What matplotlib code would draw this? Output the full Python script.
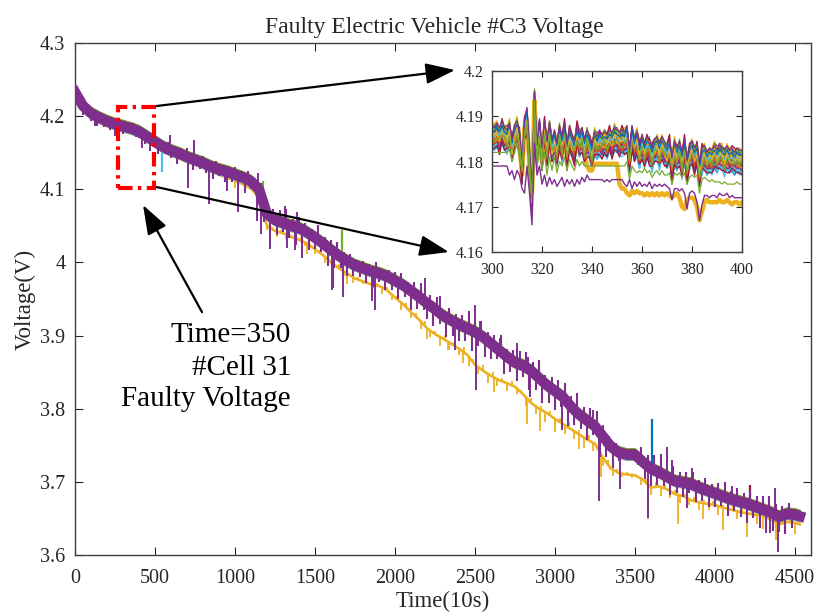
import numpy as np
import matplotlib
matplotlib.use('Agg')
import matplotlib.pyplot as plt
from matplotlib.patches import Rectangle

plt.rcParams['font.family'] = ['Liberation Serif', 'DejaVu Serif']

# ---------------- text ----------------
TITLE = 'Faulty Electric Vehicle #C3 Voltage'
XLABEL = 'Time(10s)'
YLABEL = 'Voltage(V)'
ANNOT_LINES = ['Time=350', '#Cell 31', 'Faulty Voltage']

# MATLAB default colour order
C = ['#0072BD', '#D95319', '#EDB120', '#7E2F8E', '#77AC30', '#4DBEEE', '#A2142F']

# ---------------- main chart data ----------------
x_ticks = [0, 500, 1000, 1500, 2000, 2500, 3000, 3500, 4000, 4500]
y_ticks = [3.6, 3.7, 3.8, 3.9, 4.0, 4.1, 4.2, 4.3]
y_tick_labels = ['3.6', '3.7', '3.8', '3.9', '4', '4.1', '4.2', '4.3']

t_main = list(range(0, 4501, 50)) + [4530]

band_v = [
    4.233, 4.214, 4.204, 4.198, 4.193, 4.189, 4.186, 4.183, 4.179, 4.172,
    4.165, 4.158, 4.153, 4.149, 4.144, 4.140, 4.136, 4.131, 4.127, 4.124,
    4.120, 4.116, 4.111, 4.100, 4.066, 4.058, 4.054, 4.050, 4.047, 4.041,
    4.034, 4.026, 4.017, 4.009, 4.002, 3.996, 3.992, 3.988, 3.985, 3.981,
    3.975, 3.969, 3.961, 3.953, 3.944, 3.936, 3.927, 3.921, 3.915, 3.910,
    3.905, 3.898, 3.889, 3.880, 3.871, 3.863, 3.859, 3.852, 3.842, 3.832,
    3.824, 3.816, 3.803, 3.792, 3.784, 3.776, 3.762, 3.748, 3.740, 3.737,
    3.737, 3.727, 3.718, 3.713, 3.707, 3.701, 3.699, 3.697, 3.692, 3.688,
    3.684, 3.680, 3.676, 3.673, 3.670, 3.666, 3.662, 3.658, 3.652, 3.656,
    3.655, 3.653]

fault_v = [
    4.233, 4.214, 4.204, 4.198, 4.193, 4.189, 4.185, 4.180, 4.174, 4.167,
    4.160, 4.153, 4.148, 4.144, 4.139, 4.134, 4.130, 4.125, 4.120, 4.116,
    4.112, 4.107, 4.101, 4.089, 4.050, 4.043, 4.040, 4.035, 4.031, 4.026,
    4.018, 4.010, 4.000, 3.992, 3.985, 3.978, 3.974, 3.970, 3.968, 3.962,
    3.952, 3.943, 3.932, 3.922, 3.910, 3.902, 3.896, 3.889, 3.882, 3.874,
    3.860, 3.852, 3.845, 3.839, 3.835, 3.830, 3.820, 3.808, 3.800, 3.794,
    3.786, 3.779, 3.772, 3.765, 3.758, 3.752, 3.733, 3.718, 3.712, 3.710,
    3.709, 3.703, 3.692, 3.694, 3.690, 3.683, 3.681, 3.675, 3.672, 3.670,
    3.668, 3.665, 3.662, 3.659, 3.657, 3.655, 3.654, 3.648, 3.642, 3.645,
    3.644, 3.642]

# offsets of the other cells around the band, and their colour index
main_cell_offsets = [0.0075, 0.007, -0.0075, 0.008, -0.007, 0.0065]
main_cell_colors = [0, 1, 2, 4, 5, 6]

# large spikes on the normal band (time, excursion from band in V)
spike_t = [52, 125, 180, 250, 417, 469, 594, 708, 744, 838, 948, 1017, 1062, 1135,
           1146, 1160, 1219, 1313, 1323, 1375, 1385, 1417, 1604, 1615, 1677, 1854,
           1875, 2188, 2281, 2375, 2500, 2505, 2531, 2656, 2760, 2833, 2844, 3042,
           3240, 3277, 3406, 3583, 3698, 3729, 3823, 3854, 3937, 4104, 4344, 4375, 4396]
spike_dv = [-0.012, -0.015, -0.010, -0.016, -0.020, -0.017, 0.020, -0.041, 0.027, -0.053,
            -0.026, -0.050, -0.020, -0.047, 0.021, -0.054, -0.045, 0.024, -0.032, -0.032,
            0.021, -0.039, -0.054, -0.050, -0.053, -0.040, -0.052, 0.033, 0.024, -0.038,
            0.037, -0.079, 0.019, 0.018, 0.028, 0.016, -0.037, -0.046, 0.020, -0.095,
            -0.050, -0.070, 0.041, 0.026, -0.034, 0.022, 0.016, 0.018, -0.028, 0.036, -0.048]

# dense fluctuations on the band, every 20 samples from 60 (mV)
tex_t = list(range(60, 4500, 20))
tex_mv = [
    -8, 4, -10, 6, -12, 5, -9, 7, -11, 4,
    -8, 6, -10, 5, -7, 8, -9,
    -9, 8, -12, 6, -8, 10, -14, 5, -9, 9,
    -10, 6, -15, 9, -8, 12, -6, -14, 8, -10,
    9, -12, 6, -16, 10, -9, 8, -14, 5, -12,
    10, -15, 8, -18, 12, -10, 9, -21, 15, -24,
    18, -22, 14, -20, 16, -12, 21, -18, 10, -24,
    15, -18, 12, -22, 9, -16, 20, -14, 10, -26,
    14, -21, 18, -15, 9, -20, 12, -16, 8, -14,
    10, -18, 9, -21, 14, -12, 8, -20, 10, -15,
    12, -22, 16, -14, 9, -26, 15, -18, 21, -12,
    -21, 14, -24, 18, -15, 10, -27, 16, -20, 12,
    -22, 15, -18, 24, -28, 14, -16, 20, -26, 12,
    -21, 16, -14, 22, -27, 10, -18, 15, -24, 18,
    -16, 21, -28, 14, -20, 24, -30, 12, -22, 16,
    -26, 18, -15, 22, -32, 14, -21, 27, -18, 15,
    -27, 20, -14, 24, -33, 16, -22, 12, -28, 10,
    -12, 5, -6, 4, -5, 6, -10, 18, -21, 15,
    -24, 21, -18, 26, -15, 12, -22, 20, -16, 14,
    -20, 15, -12, 18, -21, 10, -16, 14, -22, 12,
    -18, 16, -14, 20, -24, 12, -15, 18, -21, 14,
    -26, 21, -16, 15, -27, 18, -30, 22, -24, 16,
    -21, 14, -27, 15, -18]

# coloured spikes (time, excursion, colour index)
cspike_t = [542, 1177, 1667, 3604, 4219]
cspike_dv = [-0.035, 0.030, 0.038, 0.068, 0.027]
cspike_c = [5, 4, 4, 0, 6]

# spikes on the faulty cell
fspike_t = [1000, 1450, 1700, 2200, 2330, 2427, 2620, 2823, 2906, 3000, 3150, 3290,
            3583, 3771, 3927, 4052, 4198, 4300, 4380, 4500]
fspike_dv = [-0.010, -0.015, -0.014, -0.015, -0.012, -0.015, -0.020, -0.036, -0.030,
             -0.018, -0.020, -0.030, -0.046, -0.040, -0.022, -0.031, -0.032, -0.018,
             -0.024, -0.015]
# small fluctuations on the faulty cell, every 30 samples from 1200 (mV)
ftex_t = list(range(1200, 4500, 30))
ftex_mv = [
    -5, 3, -7, 4, -6, 2, -8, 5, -4, 3,
    -6, 4, -9, 3, -5, 6, -7, 2, -8, 4,
    -3, 2, -4, 3, -9, 5, -7, 4, -10, 6,
    -8, 5, -11, 7, -9, 4, -12, 6, -10, 5,
    -9, 7, -13, 5, -10, 8, -12, 6, -9, 5,
    -11, 6, -8, 4, -12, 7, -10, 5, -13, 6,
    -9, 5, -12, 8, -10, 6, -14, 7, -11, 5,
    -12, 6, -9, 4, -5, 3, -4, 2, -8, 5,
    -10, 7, -12, 5, -9, 6, -11, 4, -8, 6,
    -10, 5, -8, 6, -12, 4, -9, 5, -11, 6,
    -9, 5, -12, 7, -10, 6, -13, 5, -9, 6]

# ---------------- inset data (mV above 4.16 V) ----------------
t_in = list(range(300, 401))
inset_common = [
    25.5, 25.0, 26.0, 25.0, 26.5, 25.0, 24.5, 26.0, 22.5, 25.5,
    26.5, 24.0, 17.5, 27.0, 29.5, 20.0, 12.0, 33.0, 21.0, 27.0,
    20.5, 26.5, 22.0, 26.0, 22.5, 24.5, 21.5, 25.5, 23.0, 26.0,
    21.5, 25.0, 23.5, 22.0, 25.5, 23.5, 25.0, 22.5, 24.5, 23.0,
    21.0, 24.0, 23.0, 24.5, 23.5, 24.0, 23.5, 24.5, 24.0, 25.0,
    24.5, 24.0, 24.5, 24.0, 25.5, 20.0, 25.5, 22.5, 24.0, 21.0,
    23.5, 21.5, 23.0, 22.5, 20.5, 22.5, 23.0, 21.5, 23.0, 22.0,
    21.0, 22.5, 18.5, 22.0, 20.5, 22.0, 19.5, 22.5, 18.0, 21.0,
    22.0, 20.5, 21.5, 17.0, 20.5, 21.0, 19.5, 20.5, 20.0, 21.0,
    20.0, 21.5, 20.5, 20.0, 21.0, 20.0, 20.5, 19.5, 20.5, 20.0,
    20.0]

jit1 = [1, 0, -1, 1, 0, 2, -1, 0, 1, -2,
        0, 1, 2, -1, 0, 1, -1, 2, 0, -2,
        1, 0, -1, 2, 1, -1, 0, 2, -2, 1,
        0, -1, 1, 2, -1, 0, 1, -2, 2, 0,
        -1, 1, 0, -2, 1, 2, -1, 0, 1, -1,
        2, 0, -2, 1, 0, 1, -1, 2, -2, 0,
        1, -1, 0, 2, -1, 1, 0, -2, 1, 0,
        2, -1, 1, -1, 0, 2, -2, 1, 0, -1,
        1, 2, -1, 0, -2, 1, 0, 1, -1, 2,
        0, -1, 1, -2, 0, 2, -1, 1, 0, -1,
        1]
jit2 = [-1, 1, 0, -2, 1, 0, 2, -1, 1, 0,
        -1, 2, 0, 1, -2, 1, -1, 0, 2, -1,
        0, 2, -1, 1, 0, -2, 1, -1, 0, 2,
        -2, 1, 0, -1, 2, 1, -1, 0, -2, 1,
        1, 0, 2, -1, -1, 1, 0, 2, -2, 0,
        1, -1, 2, 0, -2, 1, -1, 0, 1, 2,
        -1, 0, 1, -2, 2, 0, -1, 1, 0, -1,
        1, 2, -2, 0, 1, -1, 0, 2, -1, 1,
        0, -2, 1, 0, 2, -1, 1, -1, 0, 1,
        2, -1, 0, 1, -2, 0, 1, 2, -1, 0,
        -1]
jit3 = [0, 2, 1, -1, 0, -1, 1, 2, -2, 0,
        2, -1, 1, 0, -1, 2, -2, 1, 1, -1,
        -1, 1, 2, 0, -2, 0, 2, -1, 1, -1,
        1, 0, -2, 1, 0, 2, 0, -1, 1, -2,
        0, 2, 1, -1, 0, -2, 1, 0, -1, 2,
        -1, 1, 0, 2, -1, 0, -2, 1, 2, -1,
        0, 1, -1, 0, 2, -2, 1, 0, 1, -1,
        -2, 0, 1, 2, -1, 0, 1, -1, 2, 0,
        1, -1, 0, 2, -2, 1, 0, -1, 1, 2,
        -1, 0, 2, -1, 1, 0, -2, 1, 0, 1,
        0]

in_offsets = [-2.5, 1.0, 2.0, -1.0, 0.5, -2.0, 1.5, 0.0, -1.5, 2.5,
              -0.5, 1.0, -2.5, 0.5, 2.0, -1.0, 1.5, -0.5, 0.0, -2.0,
              2.5, 1.0, -1.5, 0.5, -1.0, 2.0, -2.0, 1.5, 0.0, -0.5,
              1.0, -1.5, 2.0, 0.5, -2.5, 1.5, -1.0, 0.0, 2.5, -0.5]
in_jit = [0, 1, 2, 3, 1, 2, 3, 0, 2, 3, 3, 0, 1, 2, 0, 3, 1, 2, 1, 0,
          2, 3, 0, 1, 3, 1, 2, 0, 3, 2, 1, 2, 3, 0, 2, 0, 1, 3, 0, 1]

fault_in = [
    25.0, 24.5, 25.5, 24.5, 26.0, 24.5, 24.0, 25.5, 22.0, 25.0,
    26.0, 23.5, 17.0, 27.5, 29.0, 19.0, 13.0, 33.5, 20.5, 26.5,
    20.0, 26.0, 21.5, 25.0, 22.0, 24.0, 21.0, 25.0, 22.5, 25.0,
    21.0, 24.5, 23.0, 21.5, 24.5, 23.0, 24.0, 21.5, 19.0, 18.0,
    18.0, 19.5, 19.5, 19.5, 19.5, 19.5, 19.5, 19.5, 19.5, 19.5,
    19.5, 15.0, 14.0, 14.0, 13.0, 12.5, 13.5, 13.0, 13.5, 13.0,
    13.0, 12.5, 13.0, 12.5, 13.0, 12.5, 13.0, 12.5, 13.0, 12.5,
    13.0, 12.5, 12.0, 12.5, 13.0, 12.0, 10.0, 9.5, 11.5, 12.0,
    12.0, 11.5, 10.0, 7.0, 9.0, 11.0, 11.5, 11.0, 11.0, 11.0,
    11.0, 11.5, 11.0, 11.0, 11.5, 11.0, 10.5, 11.0, 11.0, 10.5,
    11.0]

lowp_in = [
    19.0, 19.0, 19.0, 19.0, 19.0, 19.0, 19.0, 17.0, 18.0, 16.0,
    18.0, 17.0, 14.0, 13.0, 19.0, 13.0, 6.0, 24.0, 17.0, 19.0,
    15.0, 17.0, 14.5, 16.5, 15.0, 16.0, 14.5, 15.5, 16.5, 14.5,
    16.0, 15.0, 16.0, 14.5, 16.0, 15.0, 16.5, 15.5, 17.0, 16.0,
    16.0, 16.0, 16.0, 16.0, 16.0, 15.5, 16.0, 15.5, 16.0, 16.0,
    16.0, 16.0, 16.0, 15.0, 14.5, 16.0, 14.0, 15.5, 14.5, 15.5,
    14.5, 15.0, 14.5, 15.5, 14.0, 15.0, 14.5, 15.0, 14.5, 15.0,
    14.5, 14.0, 11.5, 14.0, 14.0, 13.5, 14.0, 13.0, 9.5, 13.0,
    13.5, 13.0, 11.0, 7.0, 10.5, 12.5, 12.5, 12.0, 12.5, 12.5,
    12.0, 13.0, 12.5, 12.5, 13.0, 12.0, 12.5, 12.0, 12.0, 12.0,
    12.0]

green_in = [
    22.0, 22.0, 22.0, 22.0, 22.0, 22.0, 22.0, 23.0, 20.0, 22.0,
    24.0, 21.0, 18.0, 26.0, 27.0, 16.0, 12.0, 30.0, 19.0, 23.0,
    18.0, 22.0, 17.0, 21.0, 18.0, 21.0, 17.5, 20.0, 19.0, 21.0,
    18.0, 20.5, 19.0, 18.0, 20.5, 19.0, 20.0, 19.0, 19.0, 19.0,
    19.0, 19.0, 19.0, 19.0, 19.0, 19.0, 19.0, 19.0, 19.0, 19.0,
    19.0, 19.0, 19.0, 19.0, 20.0, 16.0, 19.0, 18.0, 17.5, 18.0,
    17.5, 18.5, 17.5, 18.0, 16.5, 17.5, 18.0, 17.0, 18.0, 17.0,
    17.0, 17.5, 15.0, 17.5, 17.0, 17.5, 16.5, 17.5, 15.0, 16.5,
    17.0, 16.5, 17.0, 13.0, 16.0, 16.5, 16.0, 15.5, 16.0, 15.5,
    15.5, 15.5, 15.0, 15.5, 15.0, 15.0, 15.0, 15.0, 15.5, 15.0,
    15.0]

in_x_ticks = [300, 320, 340, 360, 380, 400]
in_y_ticks = [4.16, 4.17, 4.18, 4.19, 4.2]
in_y_tick_labels = ['4.16', '4.17', '4.18', '4.19', '4.2']

# annotation geometry (data coords of main axes)
rect_x = [270, 495]
rect_y = [4.102, 4.213]
arrow_starts = [(512, 4.2139), (512, 4.103), (794, 3.932)]
arrow_ends = [(2375, 4.263), (2337, 4.0142), (425, 4.0785)]
ann_x = 1350
ann_y = [3.891, 3.846, 3.804]

# ---------------- figure ----------------
W, H = 816, 614
fig = plt.figure(figsize=(W / 100, H / 100), dpi=100)
ax = fig.add_axes([75 / W, (H - 555) / H, 736 / W, 512 / H])

tm = np.array(t_main, dtype=float)
band = np.array(band_v)
fault = np.array(fault_v)

# faulty cell
ax.plot(tm, fault, color=C[2], lw=1.9, zorder=2)
fb = np.interp(fspike_t, tm, fault)
ax.vlines(fspike_t, fb, fb + np.array(fspike_dv), color=C[2], lw=1.3, zorder=2)
fb2 = np.interp(ftex_t, tm, fault)
ax.vlines(ftex_t, fb2, fb2 + np.array(ftex_mv) / 1000.0, color=C[2], lw=1.3, zorder=2)

# other cells
for off, ci in zip(main_cell_offsets, main_cell_colors):
    ax.plot(tm, band + off, color=C[ci], lw=1.2, zorder=3)

# dominant purple cell
ax.plot(tm, band, color=C[3], lw=7.5, zorder=4)
tb = np.interp(tex_t, tm, band)
ax.vlines(tex_t, tb, tb + np.array(tex_mv) / 1000.0, color=C[3], lw=1.5, zorder=4)
sb = np.interp(spike_t, tm, band)
ax.vlines(spike_t, sb, sb + np.array(spike_dv), color=C[3], lw=1.4, zorder=4)
cb = np.interp(cspike_t, tm, band)
for t, b, dv, ci in zip(cspike_t, cb, cspike_dv, cspike_c):
    ax.vlines([t], [b], [b + dv], color=C[ci], lw=1.6, zorder=3.5)

ax.set_xlim(0, 4600)
ax.set_ylim(3.6, 4.3)
ax.set_xticks(x_ticks)
ax.set_xticklabels([str(v) for v in x_ticks])
ax.set_yticks(y_ticks)
ax.set_yticklabels(y_tick_labels)
ax.tick_params(direction='in', top=True, right=True, length=6, width=0.8,
               color='#262626', labelcolor='#262626', labelsize=14.5)
ax.tick_params(axis='x', pad=10)
ax.tick_params(axis='y', pad=7)
for s in ax.spines.values():
    s.set_color('#404040')
    s.set_linewidth(1.0)

ax.set_xlabel(XLABEL, fontsize=16.5, color='#262626')
ax.xaxis.set_label_coords(0.5, -0.07)
ax.set_ylabel(YLABEL, fontsize=16.5, color='#262626')
ax.yaxis.set_label_coords(-0.054, 0.5)
ax.text(0.488, 1.0195, TITLE, transform=ax.transAxes, ha='center', va='baseline',
        fontsize=17, color='#262626')

# red dash-dot rectangle
ax.add_patch(Rectangle((rect_x[0], rect_y[0]), rect_x[1] - rect_x[0], rect_y[1] - rect_y[0],
                       fill=False, ec='#FF0000', lw=3.0, ls=(0, (3.5, 1.3, 0.8, 1.3)),
                       zorder=6))

# arrows
for s, e in zip(arrow_starts, arrow_ends):
    ax.annotate('', xy=e, xytext=s, annotation_clip=False,
                arrowprops=dict(arrowstyle='-|>,head_length=0.9,head_width=0.32',
                                color='k', lw=1.6, mutation_scale=20,
                                shrinkA=0, shrinkB=0), zorder=7)

# annotation text
for txt, yy in zip(ANNOT_LINES, ann_y):
    ax.text(ann_x, yy, txt, ha='right', va='baseline', fontsize=21, color='k', zorder=7)

# ---------------- inset ----------------
axin = fig.add_axes([492 / W, (H - 252) / H, 250 / W, 181 / H])
ti = np.array(t_in, dtype=float)
common = np.array(inset_common)
jits = [np.zeros(len(t_in)), np.array(jit1), np.array(jit2), np.array(jit3)]
for i, (off, j) in enumerate(zip(in_offsets, in_jit)):
    if i == 28:
        axin.plot(ti, 4.16 + np.array(fault_in) / 1000.0, color=C[2], lw=3.2, zorder=2)
    yv = 4.16 + (common + off + 0.5 * jits[j]) / 1000.0
    axin.plot(ti, yv, color=C[i % 7], lw=0.9, zorder=2)
axin.plot(ti, 4.16 + np.array(green_in) / 1000.0, color=C[4], lw=0.9, zorder=2)
axin.plot(ti, 4.16 + np.array(lowp_in) / 1000.0, color=C[3], lw=1.0, zorder=2)

axin.set_xlim(300, 400)
axin.set_ylim(4.16, 4.2)
axin.set_xticks(in_x_ticks)
axin.set_yticks(in_y_ticks)
axin.set_yticklabels(in_y_tick_labels)
axin.tick_params(direction='in', top=True, right=True, length=4, width=0.8,
                 color='#262626', labelcolor='#262626', labelsize=11.5)
axin.tick_params(axis='x', pad=7)
axin.tick_params(axis='y', pad=6)
for s in axin.spines.values():
    s.set_color('#404040')
    s.set_linewidth(1.0)

fig.savefig('out.png', dpi=100)
